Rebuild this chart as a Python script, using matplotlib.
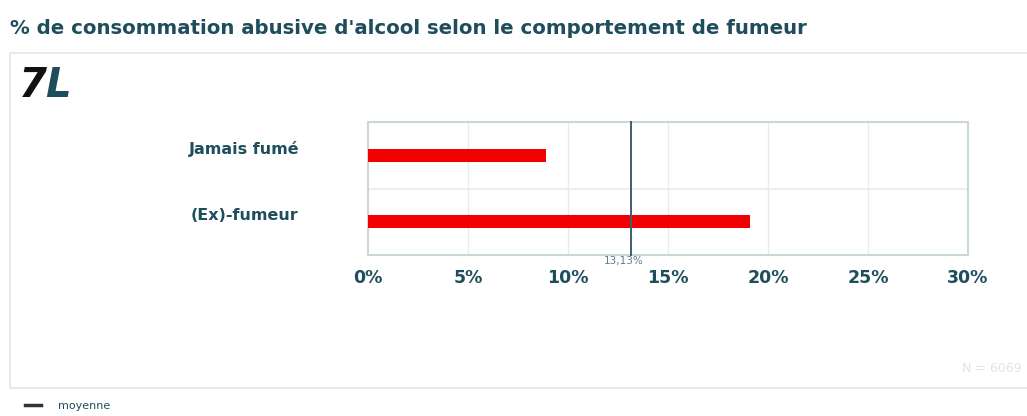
import matplotlib.pyplot as plt
from matplotlib.patches import Rectangle
from matplotlib.lines import Line2D

title = "% de consommation abusive d'alcool selon le comportement de fumeur"
categories = ["Jamais fumé", "(Ex)-fumeur"]
values = [8.9, 19.1]
mean_value = 13.13
mean_label = "13,13%"
x_ticks = [0, 5, 10, 15, 20, 25, 30]
x_tick_labels = ["0%", "5%", "10%", "15%", "20%", "25%", "30%"]
sample_label = "N = 6069"
legend_label = "moyenne"

TEAL = "#1e4d5c"
RED = "#f00000"
FRAME = "#c9d6da"
GRID = "#e6ecee"

W, H = 1027, 416
fig = plt.figure(figsize=(W / 100, H / 100), dpi=100)
fig.patch.set_facecolor("white")


def fx(px):
    return px / W


def fy(py):
    return 1 - py / H


# Title
fig.text(fx(10), fy(29), title, fontsize=14.2, fontweight="bold", color=TEAL,
         family="DejaVu Sans", va="center", ha="left")

# Outer panel
fig.patches.append(Rectangle((fx(10), fy(388)), fx(1030) - fx(10), fy(53) - fy(388),
                             transform=fig.transFigure, facecolor="white",
                             edgecolor="#e3e6e7", linewidth=1.2, zorder=-5))

# Logo
fig.text(fx(19), fy(86), "7", fontsize=29, fontweight="heavy", fontstyle="italic",
         color="#111111", va="center", ha="left", family="DejaVu Sans")
fig.text(fx(45), fy(86), "L", fontsize=29, fontweight="heavy", fontstyle="italic",
         color=TEAL, va="center", ha="left", family="DejaVu Sans")

# Plot area
ax = fig.add_axes([fx(368), fy(255), fx(968) - fx(368), fy(122) - fy(255)])
ax.set_zorder(1)
ax.set_xlim(0, 30)
ax.set_ylim(1.5, -0.5)
ys = list(range(len(categories)))
ax.barh(ys, values, height=0.19, color=RED, zorder=3)

for t in x_ticks[1:-1]:
    ax.axvline(t, color=GRID, linewidth=1, zorder=1)
ax.axhline(0.5, color=GRID, linewidth=1.2, zorder=1)

ax.plot([mean_value, mean_value], [1.5, -0.5], color="#3d5f6b", linewidth=1.4,
        zorder=4, clip_on=False)

for s in ax.spines.values():
    s.set_color(FRAME)
    s.set_linewidth(1.5)

ax.set_xticks(x_ticks)
ax.set_xticklabels(x_tick_labels, fontsize=12.5, fontweight="bold", color=TEAL)
ax.tick_params(axis="x", length=0, pad=10)
ax.set_yticks([])
for i, c in enumerate(categories):
    ax.text(-6.2, i - 0.09, c, fontsize=11.5, fontweight="bold", color=TEAL,
            ha="center", va="center")

ax.text(mean_value - 0.35, 1.5 + 0.02, mean_label, fontsize=7.5, color="#5b7f8b",
        ha="center", va="top", transform=ax.transData, clip_on=False)

# Sample size
fig.text(fx(1022), fy(368), sample_label, fontsize=9, color="#dfe5e7",
         ha="right", va="center")

# Legend
fig.lines.append(Line2D([fx(25), fx(41)], [fy(405), fy(405)], transform=fig.transFigure,
                        color="#333333", linewidth=2.5))
fig.text(fx(58), fy(406), legend_label, fontsize=8, color=TEAL, ha="left", va="center")

fig.savefig("out.png", dpi=100, facecolor="white")
